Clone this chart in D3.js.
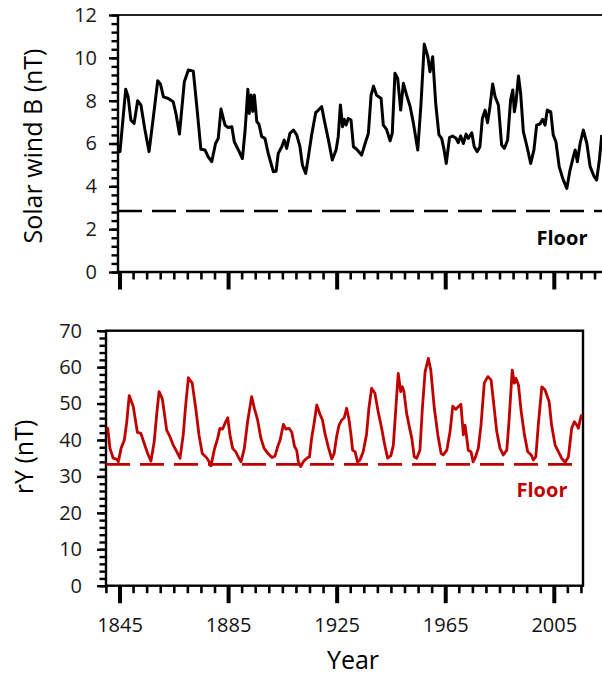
<!DOCTYPE html>
<html>
<head>
<meta charset="utf-8">
<script src="https://d3js.org/d3.v7.min.js"></script>
<style>
  body { margin: 0; background: #fff; }
  svg { display: block; font-family: "Open Sans", "Noto Sans", sans-serif; }
</style>
</head>
<body>
<svg id="chart" width="602" height="675"></svg>
<script>
// solar wind B (nT), [year, value]
var solarWindB = [
  [1844.4,5.6],[1845.0,5.62],[1847.1,8.53],[1848.0,8.18],[1849.0,7.10],[1850.2,6.94],[1851.5,8.00],[1852.7,7.80],
  [1854.2,6.63],[1855.7,5.62],[1857.3,7.25],[1858.9,8.93],[1859.9,8.78],[1861.0,8.18],[1862.8,8.10],
  [1864.6,7.95],[1865.6,7.40],[1866.9,6.44],[1868.7,8.88],[1870.2,9.43],[1872.0,9.38],[1873.3,7.72],
  [1874.8,5.73],[1876.3,5.70],[1877.5,5.38],[1878.8,5.15],[1880.2,6.00],[1881.2,6.24],[1882.2,7.61],
  [1883.7,6.86],[1884.7,6.75],[1886.2,6.78],[1887.1,6.08],[1888.6,5.70],[1890.1,5.30],[1891.1,6.63],
  [1892.1,8.53],[1892.6,7.40],[1893.3,8.26],[1893.9,7.50],[1894.5,8.26],[1895.4,7.02],[1896.2,6.90],
  [1897.2,6.32],[1898.4,6.24],[1899.6,5.54],[1901.5,4.68],[1902.5,4.70],[1903.3,5.54],[1904.6,5.85],
  [1905.5,6.16],[1906.4,5.77],[1907.6,6.47],[1908.9,6.63],[1910.1,6.40],[1911.3,5.85],[1912.2,5.00],
  [1913.4,4.60],[1914.4,5.38],[1915.6,6.40],[1917.1,7.44],[1918.1,7.56],[1919.3,7.72],[1920.5,6.94],
  [1921.8,6.16],[1923.2,5.23],[1924.6,5.70],[1925.4,6.32],[1926.2,7.80],[1927.0,6.78],[1927.6,7.13],
  [1928.3,6.86],[1929.1,7.17],[1930.1,7.10],[1931.0,5.85],[1932.2,5.73],[1934.0,5.46],[1935.3,6.00],
  [1936.5,6.47],[1937.5,8.26],[1938.4,8.68],[1939.5,8.26],[1941.2,8.10],[1942.0,6.86],[1943.2,6.66],
  [1944.5,6.13],[1945.3,6.47],[1946.3,9.28],[1947.3,9.04],[1948.4,7.56],[1949.4,8.81],[1950.6,8.26],
  [1951.9,7.72],[1953.1,6.94],[1954.7,5.70],[1955.9,7.88],[1957.1,10.64],[1958.4,10.05],[1959.2,9.35],
  [1960.2,10.05],[1961.3,7.88],[1962.5,6.40],[1963.5,6.24],[1964.4,5.70],[1965.2,5.07],[1966.4,6.28],
  [1967.5,6.35],[1968.8,6.24],[1969.6,6.04],[1970.5,6.35],[1971.5,6.00],[1972.5,6.44],[1973.3,6.24],
  [1974.6,6.50],[1975.5,5.85],[1976.6,5.62],[1977.6,5.85],[1978.5,7.17],[1979.5,7.56],[1980.4,6.97],
  [1981.3,7.72],[1982.3,8.78],[1983.2,8.18],[1984.4,7.80],[1985.6,5.93],[1986.6,5.77],[1987.8,6.16],
  [1988.9,8.03],[1989.7,8.50],[1990.3,7.48],[1990.9,7.95],[1991.8,9.15],[1992.6,8.34],[1993.6,6.55],
  [1994.8,5.93],[1996.3,5.07],[1997.5,5.70],[1998.5,6.86],[1999.7,6.91],[2000.7,7.13],[2001.6,6.86],
  [2002.4,7.56],[2003.7,7.48],[2004.6,6.40],[2005.6,6.08],[2006.8,4.92],[2008.1,4.37],[2009.6,3.90],
  [2010.8,4.76],[2012.0,5.38],[2012.7,5.70],[2013.5,5.15],[2014.5,6.00],[2015.7,6.63],[2017.0,6.00],
  [2018.2,4.92],[2019.7,4.45],[2020.6,4.29],[2021.6,5.23],[2022.5,6.40]
]

// rY (nT), lower panel
var rY = [
  [1840.2,43.5],[1840.5,43.2],[1841.3,37.7],[1842.5,35.0],[1843.8,34.7],[1844.4,34.0],[1845.4,37.7],[1846.6,40.0],
  [1847.5,45.0],[1848.4,52.2],[1849.9,49.1],[1851.4,42.1],[1852.7,41.8],[1853.9,39.1],[1855.2,36.3],
  [1856.4,34.2],[1857.6,39.5],[1858.5,46.9],[1859.4,53.3],[1860.6,51.3],[1862.2,42.7],[1863.4,40.9],
  [1864.6,38.6],[1865.9,36.8],[1867.1,35.0],[1868.3,41.4],[1869.2,49.6],[1870.2,57.1],[1871.6,55.6],
  [1872.9,48.7],[1874.1,41.4],[1875.3,36.3],[1876.6,35.4],[1877.5,34.5],[1878.5,32.9],[1879.7,37.2],
  [1881.0,40.5],[1881.8,43.2],[1882.8,43.0],[1883.7,44.6],[1884.7,46.1],[1885.5,41.4],[1886.5,37.7],
  [1887.6,36.8],[1888.8,35.0],[1889.6,34.0],[1890.8,37.7],[1892.0,45.0],[1893.5,51.9],[1894.5,48.7],
  [1895.7,45.5],[1896.9,40.5],[1898.1,37.7],[1899.6,36.2],[1901.0,35.2],[1902.1,35.6],[1903.1,38.2],
  [1904.0,40.0],[1905.2,44.3],[1906.1,43.0],[1907.3,43.2],[1908.3,42.1],[1909.3,38.2],[1910.1,37.2],
  [1910.7,34.0],[1911.6,32.7],[1912.5,34.0],[1913.8,35.0],[1914.8,35.4],[1915.6,40.5],[1916.6,45.0],
  [1917.5,49.6],[1918.7,47.0],[1919.6,45.5],[1920.5,41.8],[1921.7,38.2],[1923.0,34.8],[1923.9,36.3],
  [1924.8,40.9],[1925.7,44.1],[1926.7,45.5],[1927.6,46.1],[1928.5,48.7],[1929.3,45.9],[1930.1,41.4],
  [1930.7,37.2],[1931.6,36.8],[1932.5,34.0],[1933.4,34.5],[1934.6,36.8],[1935.8,41.4],[1936.7,48.7],
  [1937.7,54.2],[1938.9,52.8],[1940.1,47.8],[1941.4,43.2],[1942.4,39.1],[1943.6,35.0],[1944.8,35.7],
  [1945.7,38.6],[1946.5,47.3],[1947.5,58.3],[1948.4,53.3],[1949.0,54.6],[1949.6,53.3],[1950.6,47.3],
  [1951.6,43.6],[1952.5,40.5],[1953.4,35.4],[1954.3,35.0],[1955.5,37.2],[1956.4,48.7],[1957.4,58.7],
  [1958.6,62.4],[1959.5,59.2],[1960.8,48.7],[1962.1,41.4],[1963.3,36.3],[1964.1,35.9],[1965.4,37.2],
  [1966.6,42.3],[1967.6,49.3],[1968.7,48.4],[1969.6,49.1],[1970.6,49.8],[1971.5,41.4],[1972.1,44.1],
  [1972.7,40.9],[1973.3,37.2],[1974.3,36.8],[1975.1,34.0],[1975.8,35.0],[1977.0,37.7],[1978.0,44.1],
  [1979.2,55.6],[1980.5,57.4],[1981.7,56.5],[1982.6,50.5],[1983.8,42.3],[1985.0,37.7],[1986.2,35.9],
  [1987.5,37.2],[1988.3,45.0],[1989.5,59.2],[1990.3,55.6],[1990.9,56.9],[1991.8,55.1],[1992.8,47.8],
  [1994.0,41.4],[1995.2,36.8],[1996.5,35.9],[1997.3,34.5],[1998.2,35.4],[1999.1,44.1],[2000.4,54.6],
  [2001.6,53.7],[2003.1,50.5],[2004.0,44.1],[2005.3,38.6],[2006.5,36.8],[2007.7,35.0],[2009.0,33.9],
  [2010.2,35.4],[2011.4,43.2],[2012.4,45.0],[2013.3,44.1],[2013.9,43.2],[2014.5,45.5],[2015.1,47.0]
]

var floorB = 2.85
var floorRY = 33.3
var yearTicks = [1845, 1885, 1925, 1965, 2005]
var bTicks = [0, 2, 4, 6, 8, 10, 12]
var rYTicks = [0, 10, 20, 30, 40, 50, 60, 70]

var red = "#c00000"
var svg = d3.select("#chart")

// both panels share the same year -> pixel mapping
var x = d3.scaleLinear().domain([1845, 2005]).range([120, 554.3])

// ---------- top panel ----------
var upper = { left: 118, right: 602, top: 15, bottom: 272 }
var yB = d3.scaleLinear().domain([0, 12]).range([upper.bottom, upper.top])
var gTop = svg.append("g")

function minorRange(a, b, step) {
  var out = []
  for (var v = a; v <= b + 1e-9; v += step) out.push(+v.toFixed(3))
  return out
}

// year ticks, every 5 minor, every 40 major
function yearAxis(g, lo, hi, yPos) {
  var minors = minorRange(1840, 2025, 5).filter(function(d) { return x(d) >= lo - 0.5 && x(d) <= hi + 0.5 && yearTicks.indexOf(d) < 0 })
  g.selectAll(".minorx").data(minors).enter().append("line")
    .attr("x1", function(d) { return x(d) }).attr("x2", function(d) { return x(d) })
    .attr("y1", yPos).attr("y2", yPos + 7.5)
    .attr("stroke", "#000").attr("stroke-width", 2.6)
  g.selectAll(".majorx").data(yearTicks).enter().append("line")
    .attr("x1", function(d) { return x(d) }).attr("x2", function(d) { return x(d) })
    .attr("y1", yPos).attr("y2", yPos + 17.5)
    .attr("stroke", "#000").attr("stroke-width", 4)
}

function valueAxis(g, scale, xPos, majors, minorStep, padding) {
  var d = scale.domain()
  var minors = minorRange(d[0], d[1], minorStep)
  g.append("g").attr("transform", "translate(" + xPos + ",0)")
    .call(d3.axisLeft(scale).tickValues(minors).tickSize(6.5).tickFormat(""))
    .call(function(a) { a.select(".domain").remove(); a.selectAll("line").attr("stroke-width", 2.4) })
  g.append("g").attr("transform", "translate(" + xPos + ",0)")
    .call(d3.axisLeft(scale).tickValues(majors).tickSize(9).tickPadding(padding))
    .call(function(a) {
      a.select(".domain").remove()
      a.selectAll("line").attr("stroke-width", 2.4)
      a.selectAll("text").attr("font-size", 20).attr("fill", "#1a1a1a").attr("font-family", "Open Sans")
    })
}

valueAxis(gTop, yB, upper.left, bTicks, 0.4, 12)
yearAxis(gTop, upper.left, upper.right, upper.bottom)

// frame (right side is cut off in the original)
gTop.append("line").attr("x1", upper.left).attr("x2", upper.right).attr("y1", upper.top).attr("y2", upper.top)
  .attr("stroke", "#222").attr("stroke-width", 2)
gTop.append("line").attr("x1", upper.left).attr("x2", upper.left).attr("y1", upper.top).attr("y2", upper.bottom + 1)
  .attr("stroke", "#000").attr("stroke-width", 2.4)
gTop.append("line").attr("x1", upper.left - 1).attr("x2", upper.right).attr("y1", upper.bottom).attr("y2", upper.bottom)
  .attr("stroke", "#000").attr("stroke-width", 2.4)

gTop.append("line")
  .attr("x1", upper.left).attr("x2", upper.right)
  .attr("y1", yB(floorB)).attr("y2", yB(floorB))
  .attr("stroke", "#000").attr("stroke-width", 2.6).attr("stroke-dasharray", "24,10")

gTop.append("path").datum(solarWindB)
  .attr("fill", "none").attr("stroke", "#000").attr("stroke-width", 3)
  .attr("stroke-linejoin", "round")
  .attr("d", d3.line().x(function(d) { return x(d[0]) }).y(function(d) { return yB(d[1]) }))

gTop.append("text").attr("x", 562).attr("y", 245).attr("text-anchor", "middle")
  .attr("font-size", 20).attr("font-weight", "bold").attr("fill", "#000").text("Floor")

svg.append("text").attr("transform", "translate(42,146) rotate(-90)")
  .attr("text-anchor", "middle").attr("font-size", 25).attr("fill", "#000")
  .text("Solar wind B (nT)")

// ---------- bottom panel ----------
var lower = { left: 106, right: 583, top: 330.7, bottom: 585.7 }
var yR = d3.scaleLinear().domain([0, 70]).range([lower.bottom, lower.top])
var gBot = svg.append("g")

valueAxis(gBot, yR, lower.left, rYTicks, 2, 15)
yearAxis(gBot, lower.left, lower.right, lower.bottom)

gBot.append("rect").attr("x", lower.left).attr("y", lower.top)
  .attr("width", lower.right - lower.left).attr("height", lower.bottom - lower.top)
  .attr("fill", "none").attr("stroke", "#000").attr("stroke-width", 2.4)

gBot.selectAll(".yearlab").data(yearTicks).enter().append("text")
  .attr("x", function(d) { return x(d) }).attr("y", 632)
  .attr("text-anchor", "middle").attr("font-size", 20).attr("fill", "#111")
  .text(function(d) { return d })

gBot.append("line")
  .attr("x1", lower.left).attr("x2", x(2012))
  .attr("y1", yR(floorRY)).attr("y2", yR(floorRY))
  .attr("stroke", red).attr("stroke-width", 2.6).attr("stroke-dasharray", "24,10")

gBot.append("path").datum(rY)
  .attr("fill", "none").attr("stroke", red).attr("stroke-width", 2.8)
  .attr("stroke-linejoin", "round")
  .attr("d", d3.line().x(function(d) { return x(d[0]) }).y(function(d) { return yR(d[1]) }))

gBot.append("text").attr("x", 542).attr("y", 497).attr("text-anchor", "middle")
  .attr("font-size", 20).attr("font-weight", "bold").attr("fill", red).text("Floor")

svg.append("text").attr("transform", "translate(33,457) rotate(-90)")
  .attr("text-anchor", "middle").attr("font-size", 25).attr("fill", "#000")
  .text("rY (nT)")

svg.append("text").attr("x", 353).attr("y", 669).attr("text-anchor", "middle")
  .attr("font-size", 25).attr("fill", "#000").text("Year")
</script>
</body>
</html>
